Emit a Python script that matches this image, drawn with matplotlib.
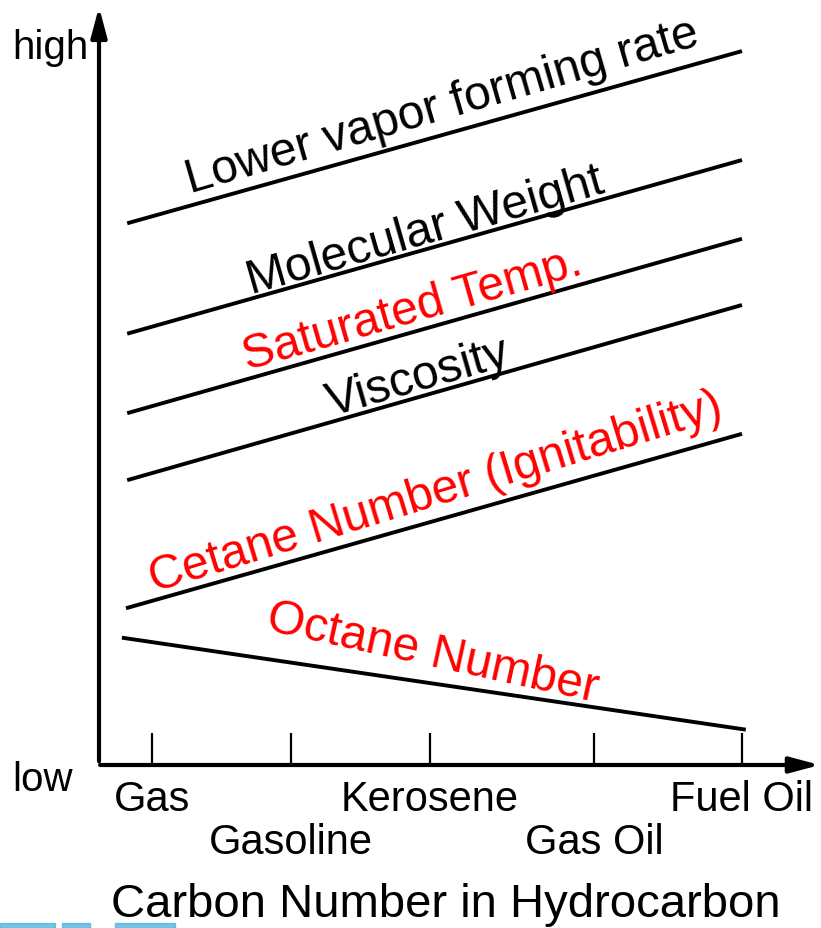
import matplotlib
matplotlib.use("Agg")
import matplotlib.pyplot as plt
from matplotlib.patches import Rectangle

plt.rcParams['font.family'] = ['Liberation Sans', 'DejaVu Sans']

# ---- data ----
fuel_labels = ["Gas", "Gasoline", "Kerosene", "Gas Oil", "Fuel Oil"]
fuel_pos = [0.0, 0.2356, 0.4712, 0.7492, 1.0]   # relative position along carbon-number axis

series_names = ["Lower vapor forming rate", "Molecular Weight", "Saturated Temp.",
                "Viscosity", "Cetane Number (Ignitability)", "Octane Number"]
series_colors = ["black", "black", "red", "black", "red", "red"]
x_start = [-0.042, -0.042, -0.042, -0.042, -0.044, -0.051]
x_end = [1.0, 1.0, 1.0, 1.0, 1.0, 1.0065]
y_start = [7.36, 5.86, 4.78, 3.87, 2.13, 1.73]
y_end = [9.70, 8.22, 7.15, 6.25, 4.50, 0.48]

# label placement (x, level, rotation)
label_x = [0.492, 0.463, 0.441, 0.451, 0.481, 0.475]
label_y = [8.95, 7.26, 6.20, 5.27, 3.71, 1.53]
label_rot = [16.2, 16.0, 16.0, 16.0, 17.0, -12.3]

axis_title = "Carbon Number in Hydrocarbon"
high_label, low_label = "high", "low"

# ---- figure ----
fig = plt.figure(figsize=(8.21, 9.29), dpi=100)
ax = fig.add_axes([0, 0, 1, 1])
ax.set_xlim(-0.2576, 1.1339)
ax.set_ylim(-2.2147, 10.4076)
ax.axis('off')

# axes arrows
arrow_style = "-|>,head_length=0.9,head_width=0.24"
ax.annotate("", xy=(-0.0898, 10.30), xytext=(-0.0898, 0.05),
            arrowprops=dict(arrowstyle=arrow_style, lw=3.0, color="black",
                            mutation_scale=20, shrinkA=0, shrinkB=0))
ax.annotate("", xy=(1.132, 0.0), xytext=(-0.088, 0.0),
            arrowprops=dict(arrowstyle=arrow_style, lw=3.0, color="black",
                            mutation_scale=20, shrinkA=0, shrinkB=0))

# ticks
for p in fuel_pos:
    ax.plot([p, p], [0, 0.435], color="black", lw=1.6, solid_capstyle='butt')

# tick labels (staggered)
for i, (p, lab) in enumerate(zip(fuel_pos, fuel_labels)):
    yy = -0.46 if i % 2 == 0 else -1.05
    ax.text(p, yy, lab, ha="center", va="center", fontsize=30)

ax.text(0.4983, -1.89, axis_title, ha="center", va="center", fontsize=34)
ax.text(-0.173, 9.76, high_label, ha="center", va="center", fontsize=29)
ax.text(-0.186, -0.19, low_label, ha="center", va="center", fontsize=29)

# series lines and labels
for i in range(len(series_names)):
    ax.plot([x_start[i], x_end[i]], [y_start[i], y_end[i]], color="black",
            lw=2.8, solid_capstyle='butt')
    ax.text(label_x[i], label_y[i], series_names[i], color=series_colors[i],
            fontsize=34.5, rotation=label_rot[i], rotation_mode='anchor',
            ha="center", va="center")

# partial logo fragments at bottom-left edge
for x0, w in [(0, 55), (62, 28), (115, 60)]:
    fig.patches.append(Rectangle((x0 / 821, 0), w / 821, 5 / 929,
                                 transform=fig.transFigure, color="#4aaee0",
                                 alpha=0.75))

fig.savefig("out.png", dpi=100)
